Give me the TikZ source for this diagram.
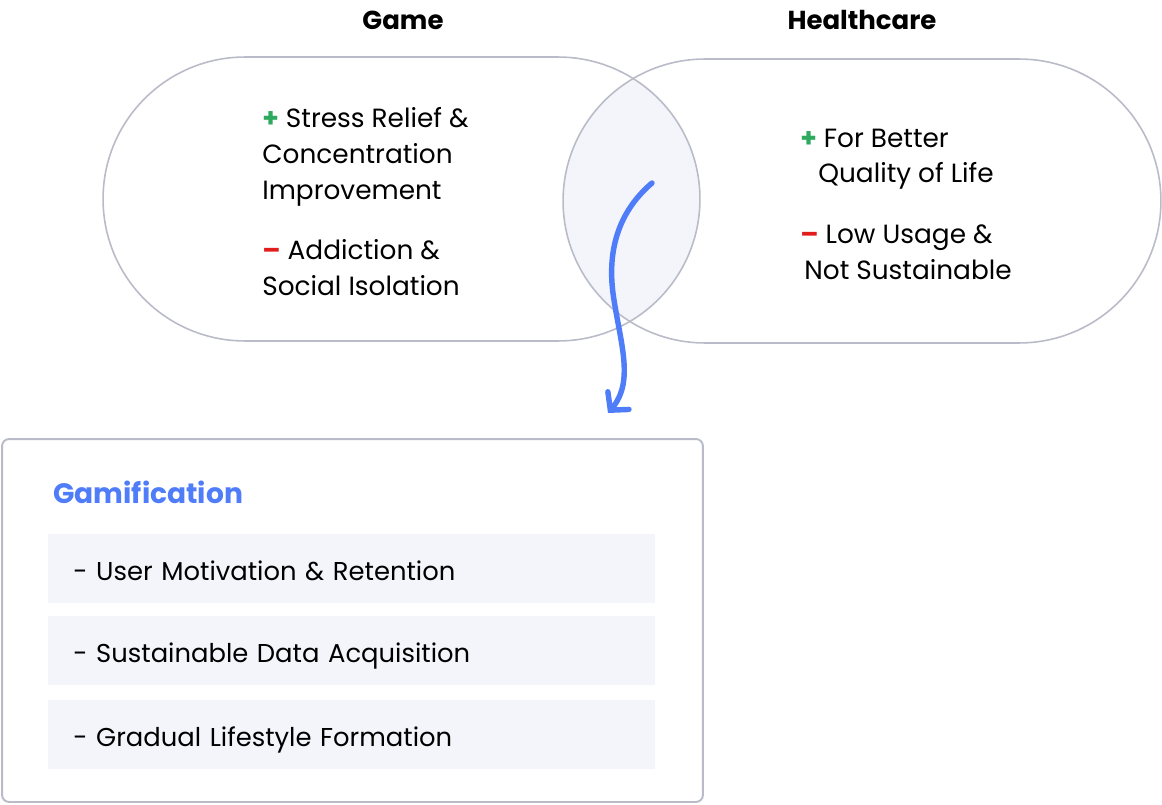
\documentclass[tikz,border=0pt]{standalone}
\usepackage{fontspec}
\setmainfont{Poppins}
\usepackage{xcolor}
\usepackage{tikz}
\usetikzlibrary{arrows.meta,positioning}
\definecolor{rim}{HTML}{B9BBC8}
\definecolor{lens}{HTML}{F4F5FB}
\definecolor{flowblue}{HTML}{4F7CF8}
\definecolor{pos}{HTML}{2EAA60}
\definecolor{neg}{HTML}{E21B1B}

\begin{document}
\begin{tikzpicture}[
    x=0.02cm, y=-0.02cm,
    oval/.style={draw=rim, line width=0.9pt, rounded corners=2.84cm,
                 minimum width=#1, minimum height=5.68cm, inner sep=0pt},
    ttl/.style={font=\fontsize{14.8}{17}\selectfont\bfseries, inner sep=0pt, anchor=base},
    txt/.style={font=\fontsize{15}{20.4}\selectfont, align=left, inner sep=0pt, anchor=base west},
    band/.style={fill=lens, minimum width=12.14cm, minimum height=1.38cm, text width=11.14cm,
                 inner xsep=0.5cm, inner ysep=0pt, align=left, anchor=north west,
                 text height=13pt, text depth=0pt, font=\fontsize{14.7}{17}\selectfont},
    flow/.style={draw=flowblue, line width=3.1pt, line cap=round,
                 -{Straight Barb[length=0.25cm, width=0.55cm, line cap=round]}},
  ]
  \useasboundingbox (0,0) rectangle (1162,804);

  % Overlap of the two fields
  \begin{scope}
    \clip[rounded corners=2.84cm] (563,59) rectangle (1161,343);
    \fill[lens, rounded corners=2.84cm] (103,57) rectangle (700,341);
  \end{scope}

  % Fields
  \node[oval=11.94cm] (game) at (401.5,199) {};
  \node[oval=11.96cm] (health) at (862,201) {};
  \node[ttl] (gameT) at (403,30) {Game};
  \node[ttl] (healthT) at (862,30) {Healthcare};

  \node[txt] (gamePro) at (262,199)
    {{\color{pos}\bfseries+} Stress Relief \&\\Concentration\\Improvement};
  \node[txt] (gameCon) at (262,295)
    {{\color{neg}\bfseries --} Addiction \&\\Social Isolation};
  \node[txt] (healthPro) at (800,183)
    {{\color{pos}\bfseries+} For Better\\\hspace*{0.36cm}Quality of Life};
  \node[txt] (healthCon) at (800,279)
    {{\color{neg}\bfseries --} Low Usage \&\\\hspace*{0.08cm}Not Sustainable};

  % Result
  \node[draw=rim, line width=1.1pt, rounded corners=4pt, minimum width=14.02cm,
        minimum height=7.26cm, inner sep=0pt] (gami) at (352.5,620.5) {};
  \node[font=\fontsize{16}{19}\selectfont\bfseries, text=flowblue, inner sep=0pt,
        anchor=base west] (gamiT) at (53,503) {Gamification};
  \node[band] (motiv) at (48,534) {- User Motivation \& Retention};
  \node[band] (data) at (48,616) {- Sustainable Data Acquisition};
  \node[band] (life) at (48,700) {- Gradual Lifestyle Formation};

  \coordinate (arrS) at (652,183);
  \coordinate (arrE) at (608,413);
  \draw[flow] (arrS) .. controls (618,212) and (606,252) .. (614,300)
    .. controls (621,345) and (634,382) .. (arrE);
\end{tikzpicture}
\end{document}
